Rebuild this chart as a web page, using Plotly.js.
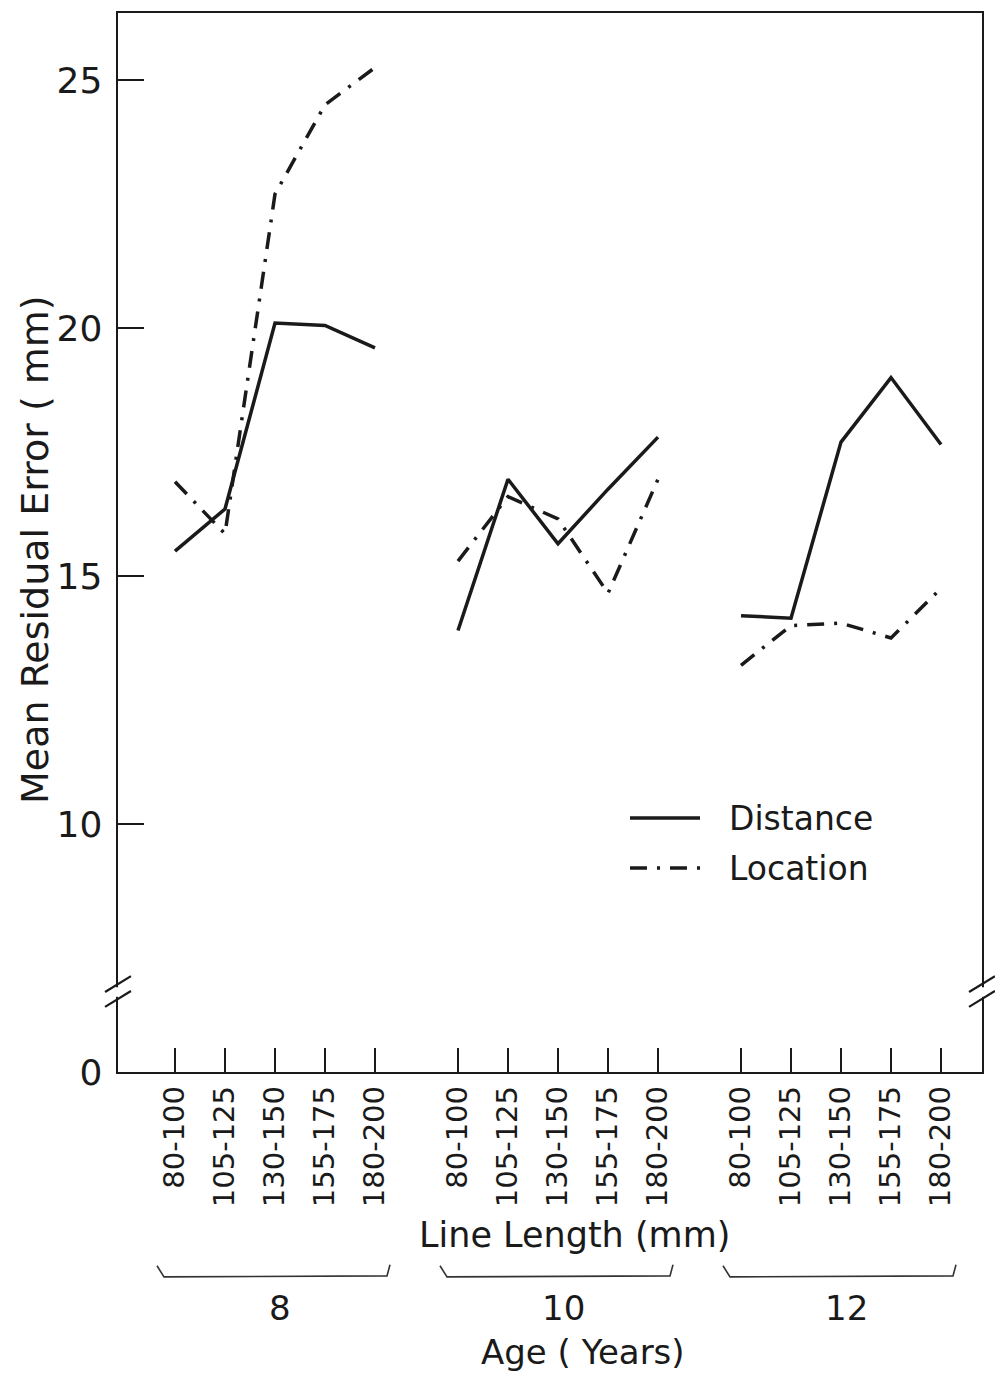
<!DOCTYPE html>
<html>
<head>
<meta charset="utf-8">
<script src="https://cdn.plot.ly/plotly-3.0.1.min.js"></script>
<style>html,body{margin:0;padding:0;background:#fff;}#chart{width:995px;height:1373px;}</style>
</head>
<body>
<div id="chart"></div>
<script>
// ---- data ----
const ages = ['8', '10', '12'];
const lineLengths = ['80-100', '105-125', '130-150', '155-175', '180-200'];
const distanceByAge = [
  [15.5, 16.35, 20.1, 20.05, 19.6],
  [13.9, 16.95, 15.65, 16.75, 17.8],
  [14.2, 14.15, 17.7, 19.0, 17.65]
];
const locationByAge = [
  [16.9, 15.85, 22.7, 24.5, 25.25],
  [15.3, 16.6, 16.15, 14.65, 16.95],
  [13.2, 14.0, 14.05, 13.75, 14.75]
];
const yTickVals = [5, 10, 15, 20, 25];
const yTickText = ['0', '10', '15', '20', '25'];

// ---- layout helpers ----
const groupStep = 5.66;
const pos = (g, i) => g * groupStep + i;
const ink = '#1a1a1a';
const font = 'DejaVu Sans, sans-serif';

function series(values) {
  const x = [], y = [];
  values.forEach((arr, g) => {
    arr.forEach((v, i) => { x.push(pos(g, i)); y.push(v); });
    if (g < values.length - 1) { x.push(null); y.push(null); }
  });
  return {x, y};
}

const d = series(distanceByAge);
const l = series(locationByAge);
const dashDot = '17px,10px,3px,10px';

const traces = [
  {x: d.x, y: d.y, type: 'scatter', mode: 'lines', name: 'Distance',
   line: {color: ink, width: 3.5}, connectgaps: false, showlegend: false},
  {x: l.x, y: l.y, type: 'scatter', mode: 'lines', name: 'Location',
   line: {color: ink, width: 3.5, dash: dashDot}, connectgaps: false, showlegend: false}
];

const tickVals = [], tickText = [];
ages.forEach((a, g) => lineLengths.forEach((t, i) => { tickVals.push(pos(g, i)); tickText.push(t); }));

const shapes = [];
const annotations = [];

// group brackets and age labels
ages.forEach((a, g) => {
  const mid = pos(g, 2);
  const x0 = mid - 2.36, x1 = mid + 2.3;
  shapes.push({type: 'path', xref: 'x', yref: 'paper',
    path: `M ${x0} -0.183 L ${x0 + 0.14} -0.1935 L ${x1 - 0.06} -0.1925 L ${x1} -0.182`,
    line: {color: '#333', width: 1.6}});
  annotations.push({xref: 'x', yref: 'paper', x: mid + 0.1, y: -0.223, text: a,
    showarrow: false, xanchor: 'center', yanchor: 'middle', font: {family: font, size: 34, color: ink}});
});

// axis break marks (left and right)
[0, 1].forEach(px => {
  shapes.push({type: 'line', xref: 'paper', yref: 'paper', x0: px - 0.0005, x1: px - 0.0005, y0: 0.071, y1: 0.080,
    line: {color: '#fff', width: 6}, layer: 'above'});
  [0.069, 0.083].forEach(py => {
    shapes.push({type: 'line', xref: 'paper', yref: 'paper',
      x0: px - 0.015, y0: py - 0.0075, x1: px + 0.015, y1: py + 0.0075,
      line: {color: ink, width: 2.2}, layer: 'above'});
  });
});

// legend (drawn manually)
shapes.push({type: 'line', xref: 'paper', yref: 'paper', x0: 0.5926, x1: 0.6736, y0: 0.2398, y1: 0.2398,
  line: {color: ink, width: 3.5}});
shapes.push({type: 'line', xref: 'paper', yref: 'paper', x0: 0.5926, x1: 0.6776, y0: 0.1926, y1: 0.1926,
  line: {color: ink, width: 3.5, dash: dashDot}});
annotations.push({xref: 'paper', yref: 'paper', x: 0.7049, y: 0.2398, text: 'Distance', showarrow: false,
  xanchor: 'left', yanchor: 'middle', font: {family: font, size: 33, color: ink}});
annotations.push({xref: 'paper', yref: 'paper', x: 0.7049, y: 0.1926, text: 'Location', showarrow: false,
  xanchor: 'left', yanchor: 'middle', font: {family: font, size: 33, color: ink}});

// axis titles
annotations.push({xref: 'paper', yref: 'paper', x: -0.096, y: 0.493, text: 'Mean Residual Error ( mm)',
  textangle: -90, showarrow: false, xanchor: 'center', yanchor: 'middle', font: {family: font, size: 38, color: ink}});
annotations.push({xref: 'paper', yref: 'paper', x: 0.528, y: -0.154, text: 'Line Length (mm)',
  showarrow: false, xanchor: 'center', yanchor: 'middle', font: {family: font, size: 35, color: ink}});
annotations.push({xref: 'paper', yref: 'paper', x: 0.538, y: -0.2644, text: 'Age ( Years)',
  showarrow: false, xanchor: 'center', yanchor: 'middle', font: {family: font, size: 34, color: ink}});

const layout = {
  width: 995, height: 1373,
  margin: {l: 118, r: 13, t: 13, b: 301},
  paper_bgcolor: '#fff', plot_bgcolor: '#fff',
  showlegend: false,
  font: {family: font, color: ink},
  xaxis: {
    range: [-1.14, 16.14], tickmode: 'array', tickvals: tickVals, ticktext: tickText,
    tickangle: -90, ticks: 'inside', ticklen: 24, tickwidth: 2.4, tickcolor: ink,
    showline: true, linecolor: ink, linewidth: 2.4, mirror: true,
    showgrid: false, zeroline: false, tickfont: {family: font, size: 29, color: ink}
  },
  yaxis: {
    range: [5, 26.35], tickmode: 'array', tickvals: yTickVals, ticktext: yTickText,
    ticks: 'inside', ticklen: 26, tickwidth: 2.4, tickcolor: ink,
    showline: true, linecolor: ink, linewidth: 2.4, mirror: true,
    showgrid: false, zeroline: false, tickfont: {family: font, size: 36, color: ink},
    ticklabelstandoff: 6
  },
  shapes: shapes,
  annotations: annotations
};

Plotly.newPlot('chart', traces, layout, {staticPlot: true, displayModeBar: false});
</script>
</body>
</html>
